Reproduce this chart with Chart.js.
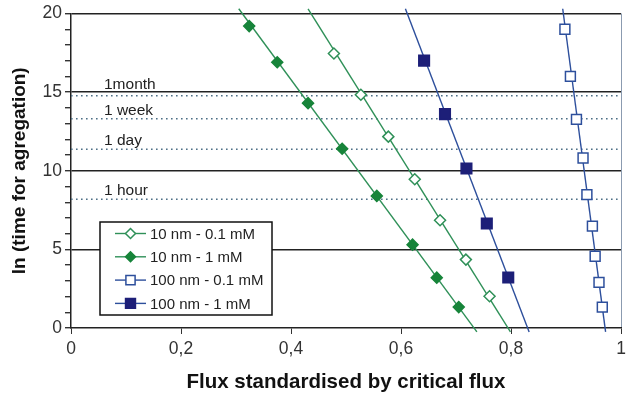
<!DOCTYPE html>
<html>
<head>
<meta charset="utf-8">
<script src="https://cdn.jsdelivr.net/npm/chart.js@4.4.1/dist/chart.umd.min.js"></script>
<style>
  html, body { margin: 0; padding: 0; background: #fff; }
  #wrap { width: 638px; height: 397px; }
</style>
</head>
<body>
<div id="wrap"><canvas id="chart" width="638" height="397"></canvas></div>
<script>
// Series (x = flux ratio, y = ln time)
const seriesNames = ['10 nm - 0.1 mM', '10 nm - 1 mM', '100 nm - 0.1 mM', '100 nm - 1 mM'];

const x10nmLow = [0.478, 0.527, 0.577, 0.625, 0.671, 0.718, 0.761];
const y10nmLow = [17.46, 14.83, 12.17, 9.46, 6.85, 4.35, 2.02];

const x10nmHigh = [0.324, 0.375, 0.431, 0.493, 0.556, 0.621, 0.665, 0.705];
const y10nmHigh = [19.2, 16.9, 14.3, 11.4, 8.4, 5.3, 3.2, 1.33];

const x100nmLow = [0.898, 0.908, 0.919, 0.931, 0.938, 0.948, 0.953, 0.960, 0.966];
const y100nmLow = [19.0, 16.0, 13.27, 10.81, 8.48, 6.48, 4.56, 2.9, 1.33];

const x100nmHigh = [0.642, 0.680, 0.719, 0.756, 0.795];
const y100nmHigh = [17.0, 13.6, 10.14, 6.65, 3.21];

// fitted straight lines: x at top (y = 20.3) and bottom (y = -0.25)
const fitY = [20.3, -0.25];
const fit10nmLow = [0.431, 0.799];
const fit10nmHigh = [0.305, 0.738];
const fit100nmLow = [0.894, 0.972];
const fit100nmHigh = [0.608, 0.833];

// reference times (ln of seconds)
const timeNames = ['1month', '1 week', '1 day', '1 hour'];
const timeValues = [14.77, 13.31, 11.37, 8.19];
const timeLabelY = [15.05, 13.4, 11.45, 8.3];

const xTicks = [0, 0.2, 0.4, 0.6, 0.8, 1];

const green = '#2f9058';
const greenDark = '#17843a';
const blue = '#2d4f9c';
const navy = '#1d1f78';

function pts(xs, ys) {
    return xs.map((x, i) => ({ x: x, y: ys[i] }));
}

const markerSets = [
    { label: seriesNames[0], data: pts(x10nmLow, y10nmLow), pointStyle: 'rectRot', pointRadius: 5.5,
      pointBackgroundColor: '#fff', pointBorderColor: green, line: green },
    { label: seriesNames[1], data: pts(x10nmHigh, y10nmHigh), pointStyle: 'rectRot', pointRadius: 5.5,
      pointBackgroundColor: greenDark, pointBorderColor: greenDark, line: green },
    { label: seriesNames[2], data: pts(x100nmLow, y100nmLow), pointStyle: 'rect', pointRadius: 7,
      pointBackgroundColor: '#fff', pointBorderColor: blue, line: blue },
    { label: seriesNames[3], data: pts(x100nmHigh, y100nmHigh), pointStyle: 'rect', pointRadius: 7.5,
      pointBackgroundColor: navy, pointBorderColor: navy, line: blue }
];

const fits = [fit10nmLow, fit10nmHigh, fit100nmLow, fit100nmHigh];

const datasets = [];

// dotted time lines
timeValues.forEach(v => {
    datasets.push({
        data: [{ x: 0, y: v }, { x: 1, y: v }],
        showLine: true, pointRadius: 0, borderColor: '#4d6f86', borderWidth: 1.6,
        borderDash: [1.6, 3.4], order: 10
    });
});

// fit lines
fits.forEach((f, i) => {
    datasets.push({
        data: [{ x: f[0], y: fitY[0] }, { x: f[1], y: fitY[1] }],
        showLine: true, pointRadius: 0, borderColor: markerSets[i].line, borderWidth: 1.4,
        clip: false, order: 5
    });
});

// markers
markerSets.forEach(m => {
    datasets.push({
        label: m.label, data: m.data, showLine: false,
        pointStyle: m.pointStyle, pointRadius: m.pointRadius,
        pointBackgroundColor: m.pointBackgroundColor, pointBorderColor: m.pointBorderColor,
        pointBorderWidth: 1.5, order: 1
    });
});

// labels for the time lines + legend box drawn inside the plot
const extras = {
    id: 'extras',
    afterDatasetsDraw(chart) {
        const ctx = chart.ctx;
        const xs = chart.scales.x, ys = chart.scales.y;
        ctx.save();
        ctx.font = '15.5px "Liberation Sans", Arial, sans-serif';
        ctx.fillStyle = '#222';
        ctx.textBaseline = 'bottom';
        ctx.textAlign = 'left';
        timeNames.forEach((t, i) => {
            ctx.fillText(t, xs.getPixelForValue(0.06), ys.getPixelForValue(timeLabelY[i]) + 1);
        });

        // legend
        const bx = 100, by = 222, bw = 172, bh = 93;
        ctx.fillStyle = '#fff';
        ctx.fillRect(bx, by, bw, bh);
        ctx.strokeStyle = '#111';
        ctx.lineWidth = 1.5;
        ctx.strokeRect(bx, by, bw, bh);
        ctx.textBaseline = 'middle';
        ctx.font = '15px "Liberation Sans", Arial, sans-serif';
        markerSets.forEach((m, i) => {
            const y = by + 11.5 + i * 23.3;
            ctx.strokeStyle = m.line;
            ctx.lineWidth = 1.4;
            ctx.beginPath();
            ctx.moveTo(115, y);
            ctx.lineTo(146, y);
            ctx.stroke();
            ctx.fillStyle = m.pointBackgroundColor;
            ctx.strokeStyle = m.pointBorderColor;
            ctx.lineWidth = 1.5;
            Chart.helpers.drawPoint(ctx, { pointStyle: m.pointStyle, radius: m.pointRadius - 0.5, borderWidth: 1.5 }, 130.5, y);
            ctx.fillStyle = '#222';
            ctx.fillText(m.label, 150, y + 1);
        });
        ctx.restore();
    }
};

const tickFont = { family: '"Liberation Sans", Arial, sans-serif', size: 17.5 };
const titleFont = { family: '"Liberation Sans", Arial, sans-serif', size: 20.5, weight: 'bold' };
const yTitleFont = { family: '"Liberation Sans", Arial, sans-serif', size: 19, weight: 'bold' };

new Chart(document.getElementById('chart'), {
    type: 'scatter',
    data: { datasets: datasets },
    options: {
        responsive: false,
        animation: false,
        layout: { padding: { top: 10, right: 17, left: 6, bottom: 2 } },
        plugins: {
            legend: { display: false },
            tooltip: { enabled: false }
        },
        scales: {
            x: {
                type: 'linear', min: 0, max: 1,
                afterBuildTicks: s => { s.ticks = xTicks.map(v => ({ value: v })); },
                afterFit: s => { s.height = 67; },
                ticks: {
                    font: tickFont, color: '#333', padding: 5,
                    callback: v => String(Math.round(v * 10) / 10).replace('.', ',')
                },
                grid: {
                    color: c => c.tick && c.tick.value === 1 ? '#8b9bb0' : 'transparent',
                    tickColor: '#333', tickLength: 6, drawOnChartArea: true
                },
                border: { color: '#222', width: 1.5 },
                title: { display: true, text: 'Flux standardised by critical flux', font: titleFont, color: '#111', padding: { top: 4, bottom: 0 } }
            },
            y: {
                type: 'linear', min: 0, max: 20,
                afterFit: s => { s.width = 65; },
                ticks: {
                    stepSize: 1, autoSkip: false, font: tickFont, color: '#333', padding: 3,
                    callback: v => v % 5 === 0 ? v : ''
                },
                grid: {
                    color: c => c.tick && c.tick.value % 5 === 0 && c.tick.value > 0 ? '#222' : 'transparent',
                    lineWidth: 1.4,
                    tickColor: '#333', tickLength: 6, drawOnChartArea: true
                },
                border: { color: '#222', width: 1.5 },
                title: { display: true, text: 'ln (time for agregation)', font: yTitleFont, color: '#111', padding: { top: 2, bottom: 2 } }
            }
        }
    },
    plugins: [extras]
});
</script>
</body>
</html>
